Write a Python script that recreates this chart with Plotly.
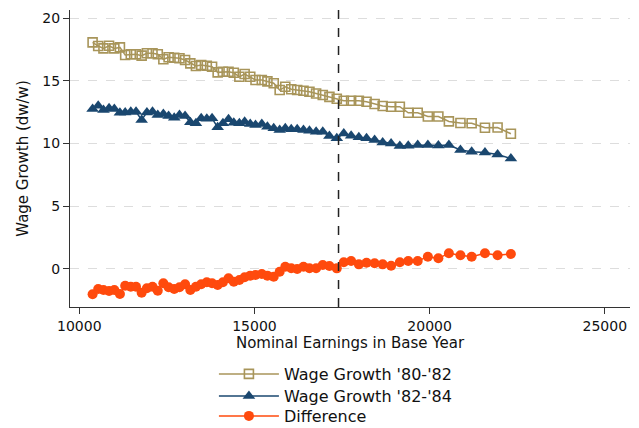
import plotly.graph_objects as go

# Nominal earnings in the base year (bin means)
earnings = [
    10380, 10540, 10690, 10850, 11000, 11160, 11310, 11470, 11620, 11780,
    11930, 12090, 12240, 12400, 12550, 12710, 12860, 13020, 13170, 13330,
    13480, 13640, 13790, 13950, 14100, 14260, 14410, 14570, 14720, 14880,
    15030, 15210, 15370, 15550, 15720, 15880, 16050, 16220, 16400, 16570,
    16760, 16950, 17140, 17350, 17550, 17760, 17980, 18200, 18430, 18660,
    18900, 19150, 19390, 19660, 19950, 20250, 20550, 20880, 21200, 21580,
    21940, 22320,
]

growth_80_82 = [
    18.06, 17.77, 17.58, 17.79, 17.58, 17.66, 17.05, 17.11, 17.11, 17.00,
    17.19, 17.19, 17.11, 16.71, 16.87, 16.84, 16.79, 16.65, 16.39, 16.18,
    16.25, 16.20, 16.12, 15.67, 15.72, 15.72, 15.64, 15.32, 15.54, 15.32,
    15.06, 15.06, 14.95, 14.80, 14.26, 14.52, 14.32, 14.26, 14.20, 14.12,
    13.99, 13.86, 13.72, 13.57, 13.41, 13.41, 13.41, 13.33, 13.15, 12.99,
    12.93, 12.93, 12.45, 12.45, 12.15, 12.15, 11.76, 11.63, 11.61, 11.25,
    11.27, 10.78,
]

growth_82_84 = [
    12.75, 13.01, 12.67, 12.80, 12.75, 12.45, 12.48, 12.53, 12.53, 11.87,
    12.48, 12.53, 12.27, 12.35, 12.19, 12.06, 12.27, 12.19, 11.69, 11.61,
    12.01, 11.97, 12.01, 11.29, 11.61, 11.93, 11.66, 11.61, 11.74, 11.55,
    11.47, 11.55, 11.34, 11.21, 11.08, 11.21, 11.13, 11.13, 11.08, 11.02,
    10.94, 10.94, 10.60, 10.41, 10.80, 10.62, 10.49, 10.41, 10.28, 10.09,
    10.01, 9.80, 9.83, 9.88, 9.88, 9.84, 9.88, 9.48, 9.35, 9.28,
    9.12, 8.80,
]

difference = [
    -2.02, -1.59, -1.67, -1.75, -1.67, -1.99, -1.33, -1.41, -1.41, -1.89,
    -1.54, -1.41, -1.73, -1.14, -1.46, -1.59, -1.46, -1.22, -1.67, -1.41,
    -1.22, -1.06, -1.14, -1.27, -1.06, -0.74, -1.01, -0.88, -0.66, -0.53,
    -0.48, -0.40, -0.53, -0.61, -0.22, 0.18, 0.06, 0.00, 0.18, 0.06,
    0.06, 0.32, 0.24, 0.05, 0.53, 0.64, 0.37, 0.50, 0.45, 0.37,
    0.26, 0.53, 0.64, 0.64, 0.98, 0.85, 1.25, 1.09, 0.98, 1.25,
    1.09, 1.20,
]

cutoff = 17400

TAN = "#a8955a"
NAVY = "#1a476f"
ORANGE = "#ff4a0d"
FONT = "DejaVu Sans"

fig = go.Figure()

fig.add_trace(go.Scatter(
    x=earnings, y=growth_80_82, mode="lines+markers",
    name="Wage Growth '80-'82", legend="legend",
    line=dict(color=TAN, width=1.5),
    marker=dict(symbol="square-open", size=9, color=TAN, line=dict(width=1.6)),
))
fig.add_trace(go.Scatter(
    x=earnings, y=growth_82_84, mode="lines+markers",
    name="Wage Growth '82-'84", legend="legend2",
    line=dict(color=NAVY, width=1.5),
    marker=dict(symbol="triangle-up", size=11, color=NAVY),
))
fig.add_trace(go.Scatter(
    x=earnings, y=difference, mode="lines+markers",
    name="Difference", legend="legend3",
    line=dict(color=ORANGE, width=1.5),
    marker=dict(symbol="circle", size=10, color=ORANGE),
))

fig.add_shape(
    type="line", xref="x", yref="paper",
    x0=cutoff, x1=cutoff, y0=0, y1=1,
    line=dict(color="#222222", width=1.5, dash="dash"),
)

legend_style = dict(
    x=0.257, xanchor="left", yanchor="middle",
    orientation="v", itemwidth=60,
    font=dict(family=FONT, size=16, color="#111111"),
    bgcolor="rgba(0,0,0,0)",
)

fig.update_layout(
    width=639, height=428,
    margin=dict(l=70, r=9, t=10, b=121, autoexpand=False),
    paper_bgcolor="white", plot_bgcolor="white",
    font=dict(family=FONT, size=14, color="#111111"),
    showlegend=True,
    legend=dict(y=-0.2256, **legend_style),
    legend2=dict(y=-0.2997, **legend_style),
    legend3=dict(y=-0.367, **legend_style),
)

fig.update_xaxes(
    range=[9735, 25720],
    tickvals=[10000, 15000, 20000, 25000],
    ticktext=["10000", "15000", "20000", "25000"],
    ticks="outside", ticklen=6, tickcolor="#333333",
    showline=True, linecolor="#333333", linewidth=1,
    showgrid=False, zeroline=False,
    tickfont=dict(size=14),
    title=dict(text="Nominal Earnings in Base Year", font=dict(size=15), standoff=4),
)

fig.update_yaxes(
    range=[-3.03, 20.64],
    tickvals=[0, 5, 10, 15, 20],
    ticks="outside", ticklen=6, tickcolor="#333333",
    showline=True, linecolor="#333333", linewidth=1,
    showgrid=True, gridcolor="#dddddd", gridwidth=1.2, griddash="dash",
    zeroline=False,
    tickfont=dict(size=14),
    title=dict(text="Wage Growth (dw/w)", font=dict(size=15), standoff=10),
)

fig.write_html("out.html")
